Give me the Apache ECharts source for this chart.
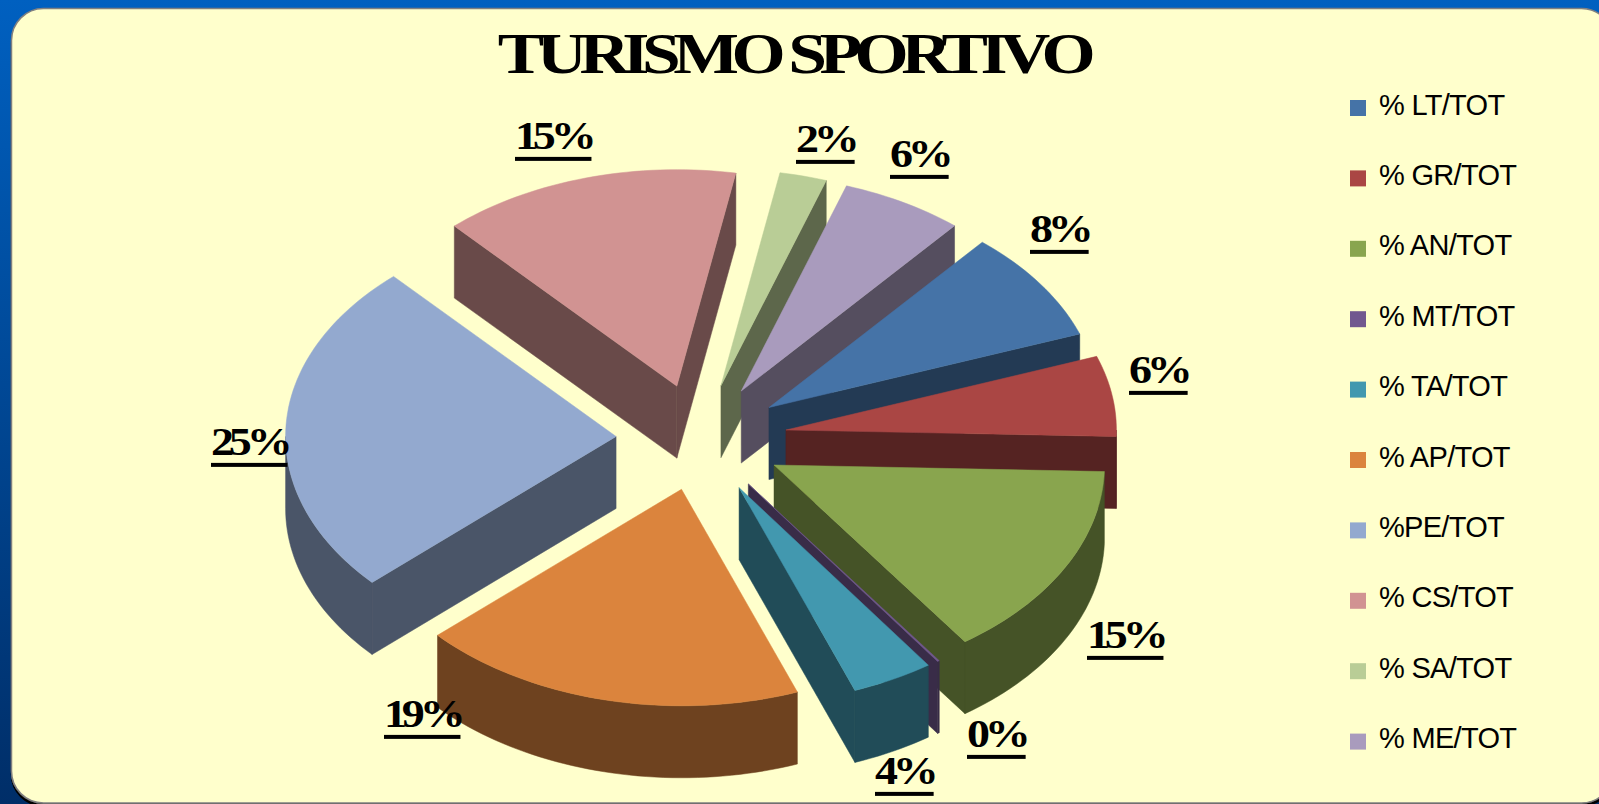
<!DOCTYPE html>
<html><head><meta charset="utf-8">
<script src="https://cdn.jsdelivr.net/npm/echarts@6/dist/echarts.min.js"></script>
<style>
html,body{margin:0;padding:0;background:#003a80}
#c{width:1599px;height:804px}
#c text{letter-spacing:-0.7px}
#c text[style*="29px"]{translate:0 -3.5px}
#c text[style*="58px"]{letter-spacing:-6.2px}
#c text[style*="40px"]{letter-spacing:-4.5px;text-decoration:underline;text-decoration-thickness:3px;text-underline-offset:3px}
</style></head><body><div id="c"></div>
<script>
const titleText = 'TURISMO SPORTIVO';
const categories = ['% LT/TOT','% GR/TOT','% AN/TOT','% MT/TOT','% TA/TOT','% AP/TOT','%PE/TOT','% CS/TOT','% SA/TOT','% ME/TOT'];
const values = [8.3, 6.0, 14.7, 0.1, 4.0, 18.9, 25.0, 14.6, 2.3, 6.0];
const colors = ['#4573A7','#AA4644','#89A54E','#71588F','#4298AF','#DB843D','#93A9CF','#D19392','#B9CD96','#A99BBD'];
const drawOrder = [4,5,6,7,8,9,3,0,1,2]; // slice index -> stacking order
const explodes = [84,87,84,84,84,79,84,84,84,84];
const labelAnchors = [[1030,243],[1129,384],[1087,649],[967,748],[875,785],[384,728],[211,456],[515,150],[796,153],[890,168]];

const cx = 700, cy = 439, R = 330.5, tilt = 0.655, depth = 72, startDeg = -49.8;
const total = values.reduce((a,b)=>a+b,0);
let acc = startDeg;
const spans = values.map(v=>{const a0=acc; acc+=v/total*360; return [a0,acc];});
const rad = d=>d*Math.PI/180;
function shade(hex,f){const n=parseInt(hex.slice(1),16);
  return 'rgb('+[(n>>16)&255,(n>>8)&255,n&255].map(c=>Math.round(c*f)).join(',')+')';}
function sliceItem(i){
  return function(params,api){
    const v = api.value(0), explode = explodes[i];
    const a0 = spans[i][0], a1 = a0 + v/total*360, mid=(a0+a1)/2;
    const tx = cx + explode*Math.cos(rad(mid)), ty = cy + explode*tilt*Math.sin(rad(mid));
    const pt = d=>[tx+R*Math.cos(rad(d)), ty+R*tilt*Math.sin(rad(d))];
    const down = p=>[p[0],p[1]+depth];
    const arc = (s,e)=>{const n=Math.max(2,Math.ceil((e-s)/1.5)),o=[];for(let k=0;k<=n;k++)o.push(pt(s+(e-s)*k/n));return o;};
    const side = shade(colors[i],0.5), kids=[];
    const poly=(pts,fill)=>kids.push({type:'polygon',shape:{points:pts},style:{fill:fill,stroke:fill,lineWidth:0.5}});
    const tip=[tx,ty];
    if(Math.cos(rad(a0))<0){const p=pt(a0);poly([tip,p,down(p),down(tip)],side);}
    if(Math.cos(rad(a1))>0){const p=pt(a1);poly([tip,p,down(p),down(tip)],side);}
    for(const base of [0,360]){
      const s=Math.max(a0,base), e=Math.min(a1,base+180);
      if(e>s){const top=arc(s,e);poly(top.concat(top.map(down).reverse()),side);}
    }
    poly([tip].concat(arc(a0,a1)),colors[i]);
    return {type:'group',children:kids};
  };
}
const labelAscent = 34;
function labelItem(params,api){
  const i=params.dataIndex, a=labelAnchors[i];
  return {type:'text',x:a[0],y:a[1]-labelAscent,scaleX:1.15,
    style:{x:0,y:0,text:Math.round(api.value(0))+'%',
    font:'bold 40px "Liberation Serif"',fill:'#000',align:'left',verticalAlign:'top'}};
}
const series = categories.map((name,i)=>({
  type:'custom',name:name,coordinateSystem:'none',z:10+drawOrder[i],silent:true,
  itemStyle:{color:colors[i]},data:[[values[i]]],renderItem:sliceItem(i)
}));
series.push({type:'custom',name:'labels',coordinateSystem:'none',z:40,silent:true,
  data:values.map(v=>[v]),renderItem:labelItem});
const chart = echarts.init(document.getElementById('c'),null,{renderer:'svg',width:1599,height:804});
chart.setOption({
  animation:false,
  color:colors,
  backgroundColor:{type:'linear',x:0,y:0,x2:0,y2:1,colorStops:[{offset:0,color:'#0060C0'},{offset:1,color:'#002E68'}]},
  graphic:[
    {type:'rect',z:-1,shape:{x:11.5,y:8.5,width:1602,height:794.5,r:32},
     style:{fill:'#FFFFCC',stroke:'#808080',lineWidth:1.5,shadowColor:'#000',shadowBlur:0,shadowOffsetY:3}},
    {type:'text',z:1,x:793,y:83,scaleX:1.2,style:{x:0,y:0,text:titleText,font:'bold 58px "Liberation Serif"',fill:'#000',align:'center',verticalAlign:'bottom'}}
  ],
  legend:{data:categories,orient:'vertical',left:1350,top:93.5,padding:0,itemWidth:16,itemHeight:16,itemGap:41.4,
    icon:'rect',selectedMode:false,
    textStyle:{fontFamily:'"Liberation Sans"',fontSize:29,color:'#000',lineHeight:16,padding:[0,0,0,8]}},
  series:series
});
</script></body></html>
